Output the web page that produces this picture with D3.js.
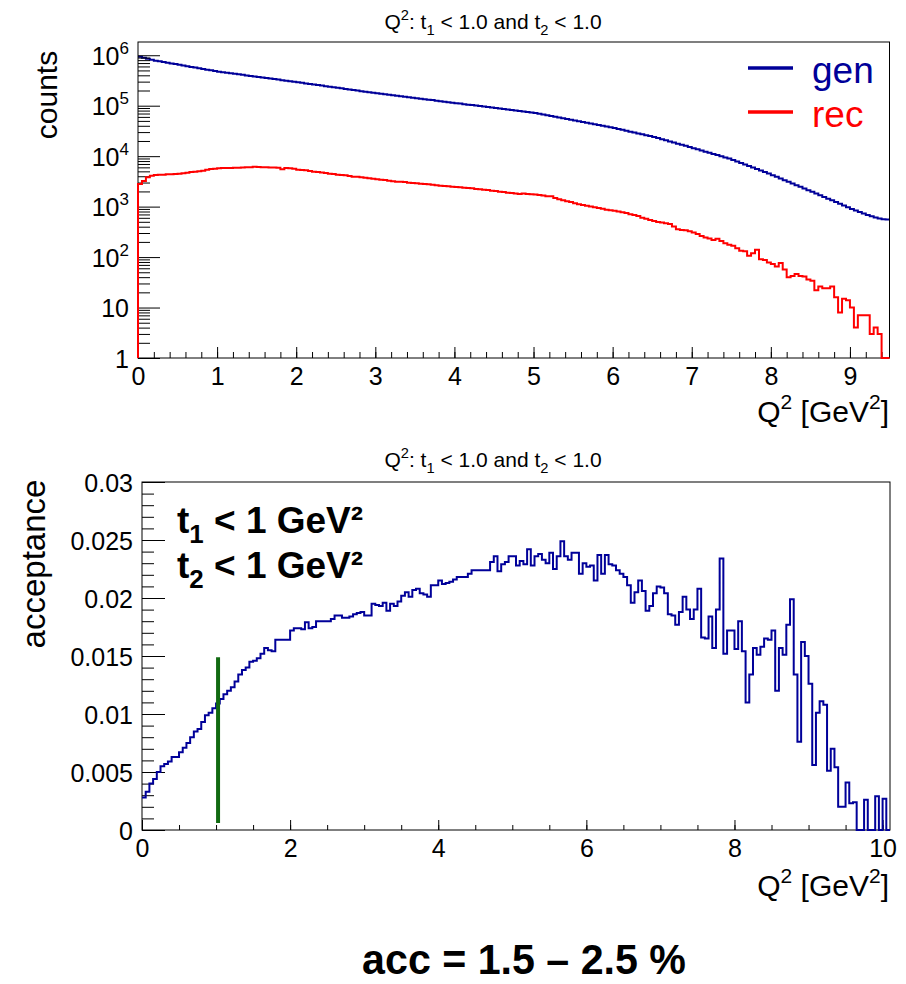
<!DOCTYPE html>
<html><head><meta charset="utf-8">
<script src="https://cdn.jsdelivr.net/npm/d3@7"></script>
<style>
body{margin:0;background:#fff}
svg text{font-family:"Liberation Sans",Arial,Helvetica,sans-serif}
</style>
</head><body>
<svg id="c" width="906" height="984"></svg>
<script>
// ---------- DATA ----------
const binWidth = 0.05;
// generated counts, top panel (bins of 0.05 from 0 to 9.5)
const genCounts = [
 933000, 891000, 851000, 813000, 782000, 757000, 734000, 711000, 689000, 667000,
 647000, 627000, 607000, 588000, 570000, 552000, 535000, 518000, 502000, 486000,
 473000, 461000, 451000, 440000, 430000, 419000, 409000, 399000, 390000, 380000,
 372000, 362000, 354000, 345000, 337000, 329000, 321000, 313000, 306000, 299000,
 291000, 284000, 277000, 270000, 263000, 257000, 250000, 244000, 238000, 232000,
 226000, 221000, 215000, 210000, 204000, 199000, 194000, 189000, 185000, 180000,
 176000, 172000, 168000, 164000, 161000, 157000, 154000, 150000, 147000, 144000,
 141000, 137000, 134000, 131000, 129000, 126000, 123000, 120000, 117500, 115000,
 112000, 110000, 107000, 105000, 103000, 101000, 98400, 96400, 94200, 92200,
 90200, 88300, 86100, 84100, 82200, 80400, 78500, 76700, 75000, 73300,
 71300, 68900, 66700, 64400, 62400, 60300, 58300, 56400, 54600, 52700,
 50900, 49200, 47500, 45900, 44400, 42900, 41400, 40000, 38600, 37300,
 36000, 34600, 33200, 31900, 30600, 29400, 28200, 27200, 26100, 25100,
 23900, 22800, 21600, 20600, 19500, 18600, 17700, 16800, 16000, 15200,
 14400, 13700, 13000, 12300, 11700, 11100, 10500, 9950, 9440, 8950,
 8410, 7850, 7330, 6840, 6380, 5960, 5560, 5190, 4840, 4520,
 4200, 3890, 3610, 3350, 3100, 2870, 2660, 2470, 2290, 2120,
 1960, 1820, 1680, 1550, 1440, 1330, 1230, 1140, 1050, 970,
 902, 841, 785, 733, 684, 646, 610, 582, 562, 556
];
// reconstructed counts, top panel
const recCounts = [
 2800, 3220, 3800, 4100, 4230, 4300, 4300, 4360, 4360, 4430,
 4490, 4560, 4700, 4840, 4920, 5000, 5150, 5390, 5560, 5640,
 5730, 5800, 5820, 5850, 5880, 5900, 5950, 6000, 6050, 6180,
 6100, 6050, 6000, 5980, 5950, 5900, 5500, 5850, 5780, 5600,
 5390, 5300, 5230, 5070, 4920, 4840, 4770, 4630, 4490, 4430,
 4300, 4230, 4170, 4040, 3920, 3920, 3800, 3740, 3630, 3570,
 3470, 3420, 3370, 3260, 3170, 3120, 3120, 3070, 2980, 2940,
 2890, 2850, 2800, 2760, 2720, 2640, 2600, 2560, 2520, 2480,
 2450, 2410, 2370, 2340, 2300, 2230, 2200, 2170, 2130, 2070,
 2040, 1980, 1950, 1890, 1860, 1830, 1780, 1810, 1780, 1750,
 1730, 1700, 1670, 1600, 1610, 1480, 1400, 1340, 1280, 1230,
 1170, 1110, 1080, 1045, 1000, 970, 940, 912, 871, 845,
 833, 796, 772, 748, 705, 684, 653, 605, 578, 544,
 520, 497, 482, 468, 454, 402, 356, 345, 340, 325,
 306, 288, 263, 244, 233, 219, 230, 209, 188, 175,
 167, 150, 133, 131, 106, 119, 139, 91, 88, 78,
 73, 65, 76, 57, 40, 42, 46, 42, 41, 36,
 34, 22, 26, 24, 24, 26, 16, 8, 15, 14,
 10, 4, 7, 7, 7, 3, 4, 3, 0, 0
];
// acceptance, bottom panel (bins of 0.05 from 0 to 10.1)
const acceptance = [
 0.0028, 0.0033, 0.0040, 0.0044, 0.0050, 0.0055, 0.0057, 0.0059, 0.0063, 0.0063,
 0.0067, 0.0071, 0.0075, 0.0080, 0.0085, 0.0087, 0.0093, 0.0099, 0.0101, 0.0105,
 0.0109, 0.0113, 0.0117, 0.0120, 0.0123, 0.0128, 0.0134, 0.0138, 0.0140, 0.0145,
 0.0146, 0.0148, 0.0152, 0.0157, 0.0155, 0.0154, 0.0164, 0.0164, 0.0164, 0.0164,
 0.0172, 0.0174, 0.0174, 0.0173, 0.0179, 0.0174, 0.0175, 0.0180, 0.0180, 0.0180,
 0.0180, 0.0182, 0.0185, 0.0185, 0.0183, 0.0183, 0.0184, 0.0186, 0.0187, 0.0188,
 0.0185, 0.0185, 0.0195, 0.0194, 0.0193, 0.0196, 0.0189, 0.0195, 0.0193, 0.0197,
 0.0202, 0.0205, 0.0201, 0.0207, 0.0208, 0.0204, 0.0203, 0.0201, 0.0211, 0.0211,
 0.0215, 0.0212, 0.0213, 0.0214, 0.0216, 0.0218, 0.0218, 0.0218, 0.0221, 0.0224,
 0.0224, 0.0224, 0.0224, 0.0224, 0.0231, 0.0236, 0.0223, 0.0229, 0.0231, 0.0236,
 0.0236, 0.0228, 0.0232, 0.0229, 0.0242, 0.0228, 0.0236, 0.0238, 0.0233, 0.0230,
 0.0239, 0.0225, 0.0236, 0.0249, 0.0236, 0.0233, 0.0239, 0.0239, 0.0221, 0.0230,
 0.0227, 0.0228, 0.0215, 0.0237, 0.0221, 0.0237, 0.0229, 0.0228, 0.0224, 0.0221,
 0.0218, 0.0211, 0.0196, 0.0205, 0.0215, 0.0206, 0.0189, 0.0193, 0.0204, 0.0210,
 0.0209, 0.0204, 0.0186, 0.0185, 0.0177, 0.0188, 0.0201, 0.0190, 0.0182, 0.0190,
 0.0208, 0.0166, 0.0165, 0.0184, 0.0157, 0.0190, 0.0234, 0.0152, 0.0172, 0.0172,
 0.0156, 0.0180, 0.0154, 0.0110, 0.0134, 0.0157, 0.0151, 0.0158, 0.0165, 0.0164,
 0.0172, 0.0120, 0.0157, 0.0151, 0.0177, 0.0199, 0.0134, 0.0076, 0.0162, 0.0150,
 0.0126, 0.0056, 0.0101, 0.0111, 0.0108, 0.0051, 0.0070, 0.0054, 0.0020, 0.0020,
 0.0041, 0.0023, 0.0024, 0, 0, 0.0026, 0, 0, 0.0029, 0,
 0.0027, 0
];
const topXTicks = [0, 1, 2, 3, 4, 5, 6, 7, 8, 9];
const topYTicks = [1, 10, 1e2, 1e3, 1e4, 1e5, 1e6];
const botXTicks = [0, 2, 4, 6, 8, 10];
const botYTicks = [0, 0.005, 0.01, 0.015, 0.02, 0.025, 0.03];
const botYTickLabels = ["0", "0.005", "0.01", "0.015", "0.02", "0.025", "0.03"];
const legendItems = [{label: "gen", color: "#000099"}, {label: "rec", color: "#ff0000"}];
const cutLine = {q: 1.0, from: 0.0006, to: 0.0149};

// ---------- HELPERS ----------
const svg = d3.select('#c');
const BLUE = "#000099", RED = "#ff0000";

function rich(textSel, parts, size) {
  let shift = 0;
  parts.forEach(([s, m]) => {
    const target = m === 1 ? -0.42 * size : (m === -1 ? 0.28 * size : 0);
    textSel.append('tspan').attr('dy', target - shift)
      .attr('font-size', m ? size * 0.7 : size).text(s);
    shift = target;
  });
}
function addText(x, y, parts, size, opts = {}) {
  const t = svg.append('text')
    .attr('transform', `translate(${x},${y})${opts.rot ? ' rotate(' + opts.rot + ')' : ''} scale(${opts.sx || 1},1)`)
    .attr('text-anchor', opts.anchor || 'start')
    .attr('font-size', size)
    .attr('font-weight', opts.bold ? 'bold' : 'normal')
    .attr('fill', opts.fill || '#000');
  rich(t, parts, size);
  return t;
}
function stepPath(values, xs, ys, x0, floorVal, fromBase, toBase) {
  const base = ys(floorVal);
  let d = '';
  values.forEach((v, i) => {
    const xa = xs(x0 + i * binWidth), xb = xs(x0 + (i + 1) * binWidth);
    const yv = v <= floorVal ? base : ys(v);
    if (i === 0) d += fromBase ? `M${xa},${base}V${yv}` : `M${xa},${yv}`;
    else d += `V${yv}`;
    d += `H${xb}`;
  });
  if (toBase) d += `V${base}`;
  return d;
}

// ---------- TOP PANEL ----------
const xT = d3.scaleLinear().domain([0, 9.5]).range([138, 889.5]);
const yT = d3.scaleLog().domain([1, 1.83e6]).range([358, 42]);

svg.append('path').attr('d', stepPath(genCounts, xT, yT, 0, 1, false, false))
  .attr('fill', 'none').attr('stroke', BLUE).attr('stroke-width', 2);

svg.append('rect').attr('x', xT.range()[0]).attr('y', yT.range()[1])
  .attr('width', xT.range()[1] - xT.range()[0]).attr('height', yT.range()[0] - yT.range()[1])
  .attr('fill', 'none').attr('stroke', '#000').attr('stroke-width', 1);

const topYMinor = [];
for (let k = 0; k < 7; k++) for (let m = 2; m <= 9; m++) { const v = m * Math.pow(10, k); if (v < 1.83e6) topYMinor.push(v); }
svg.append('g').attr('transform', `translate(${xT(0)},0)`)
  .call(d3.axisLeft(yT).tickValues(topYMinor).tickSizeInner(-12).tickSizeOuter(0).tickFormat(''))
  .call(g => g.select('.domain').remove());
const gyT = svg.append('g').attr('transform', `translate(${xT(0)},0)`)
  .call(d3.axisLeft(yT).tickValues(topYTicks).tickSizeInner(-22).tickSizeOuter(0).tickPadding(9).tickFormat(''));
gyT.select('.domain').remove();
gyT.selectAll('.tick text').each(function(d) {
  const t = d3.select(this).attr('font-size', 25).attr('font-family', null).attr('dy', '0.36em');
  if (d < 100) t.append('tspan').text(String(d));
  else {
    t.append('tspan').text('10');
    t.append('tspan').attr('dy', -11).attr('font-size', 17).text(String(Math.round(Math.log10(d))));
  }
});

const topXMinor = d3.range(0, 9.5001, 0.2);
svg.append('g').attr('transform', `translate(0,${yT(1)})`)
  .call(d3.axisBottom(xT).tickValues(topXMinor).tickSizeInner(-6).tickSizeOuter(0).tickFormat(''))
  .call(g => g.select('.domain').remove());
svg.append('g').attr('transform', `translate(0,${yT(1)})`)
  .call(d3.axisBottom(xT).tickValues(topXTicks).tickSizeInner(-11).tickSizeOuter(0).tickPadding(9).tickFormat(d3.format('d')))
  .call(g => g.select('.domain').remove())
  .call(g => g.selectAll('text').attr('font-size', 25).attr('font-family', null));

svg.append('path').attr('d', stepPath(recCounts, xT, yT, 0, 1, true, true))
  .attr('fill', 'none').attr('stroke', RED).attr('stroke-width', 2);

// legend
legendItems.forEach((it, i) => {
  const ly = 68 + i * 44;
  svg.append('line').attr('x1', 748).attr('x2', 793).attr('y1', ly).attr('y2', ly)
    .attr('stroke', it.color).attr('stroke-width', 3.5);
  addText(812, ly + 15, [[it.label, 0]], 37, {fill: it.color});
});

const titleParts = [['Q', 0], ['2', 1], [': t', 0], ['1', -1], [' < 1.0 and t', 0], ['2', -1], [' < 1.0', 0]];
addText(493, 29, titleParts, 21, {anchor: 'middle'});
addText(57, 95, [['counts', 0]], 30, {anchor: 'middle', rot: -90});
const qTitle = [['Q', 0], ['2', 1], [' [GeV', 0], ['2', 1], [']', 0]];
addText(889, 422, qTitle, 30, {anchor: 'end'});

// ---------- BOTTOM PANEL ----------
const xB = d3.scaleLinear().domain([0, 10.1]).range([142, 890]);
const yB = d3.scaleLinear().domain([0, 0.03]).range([830, 482]);

svg.append('rect').attr('x', xB.range()[0]).attr('y', yB.range()[1])
  .attr('width', xB.range()[1] - xB.range()[0]).attr('height', yB.range()[0] - yB.range()[1])
  .attr('fill', 'none').attr('stroke', '#000').attr('stroke-width', 1);

svg.append('g').attr('transform', `translate(${xB(0)},0)`)
  .call(d3.axisLeft(yB).tickValues(d3.range(0, 0.03001, 0.001)).tickSizeInner(-12).tickSizeOuter(0).tickFormat(''))
  .call(g => g.select('.domain').remove());
svg.append('g').attr('transform', `translate(${xB(0)},0)`)
  .call(d3.axisLeft(yB).tickValues(botYTicks).tickSizeInner(-23).tickSizeOuter(0).tickPadding(9)
    .tickFormat((d, i) => botYTickLabels[i]))
  .call(g => g.select('.domain').remove())
  .call(g => g.selectAll('text').attr('font-size', 25).attr('font-family', null).attr('dy', '0.36em'));

svg.append('g').attr('transform', `translate(0,${yB(0)})`)
  .call(d3.axisBottom(xB).tickValues(d3.range(0, 10.001, 0.5)).tickSizeInner(-5).tickSizeOuter(0).tickFormat(''))
  .call(g => g.select('.domain').remove());
svg.append('g').attr('transform', `translate(0,${yB(0)})`)
  .call(d3.axisBottom(xB).tickValues(botXTicks).tickSizeInner(-10).tickSizeOuter(0).tickPadding(9).tickFormat(d3.format('d')))
  .call(g => g.select('.domain').remove())
  .call(g => g.selectAll('text').attr('font-size', 25).attr('font-family', null));

svg.append('path').attr('d', stepPath(acceptance, xB, yB, 0, -1, false, false))
  .attr('fill', 'none').attr('stroke', BLUE).attr('stroke-width', 2);

// green cut line
svg.append('line').attr('x1', xB(cutLine.q) + 2).attr('x2', xB(cutLine.q) + 2)
  .attr('y1', yB(cutLine.from)).attr('y2', yB(cutLine.to))
  .attr('stroke', '#116a11').attr('stroke-width', 4);

addText(493, 467, titleParts, 21, {anchor: 'middle'});
addText(45, 564, [['acceptance', 0]], 33, {anchor: 'middle', rot: -90});
addText(889, 896, qTitle, 30, {anchor: 'end'});

addText(177, 533, [['t', 0], ['1', -1], [' < 1 GeV²', 0]], 37, {bold: true});
addText(177, 578, [['t', 0], ['2', -1], [' < 1 GeV²', 0]], 37, {bold: true});

addText(524, 974, [['acc = 1.5 – 2.5 %', 0]], 42, {anchor: 'middle', bold: true, sx: 0.98});
</script>
</body></html>
